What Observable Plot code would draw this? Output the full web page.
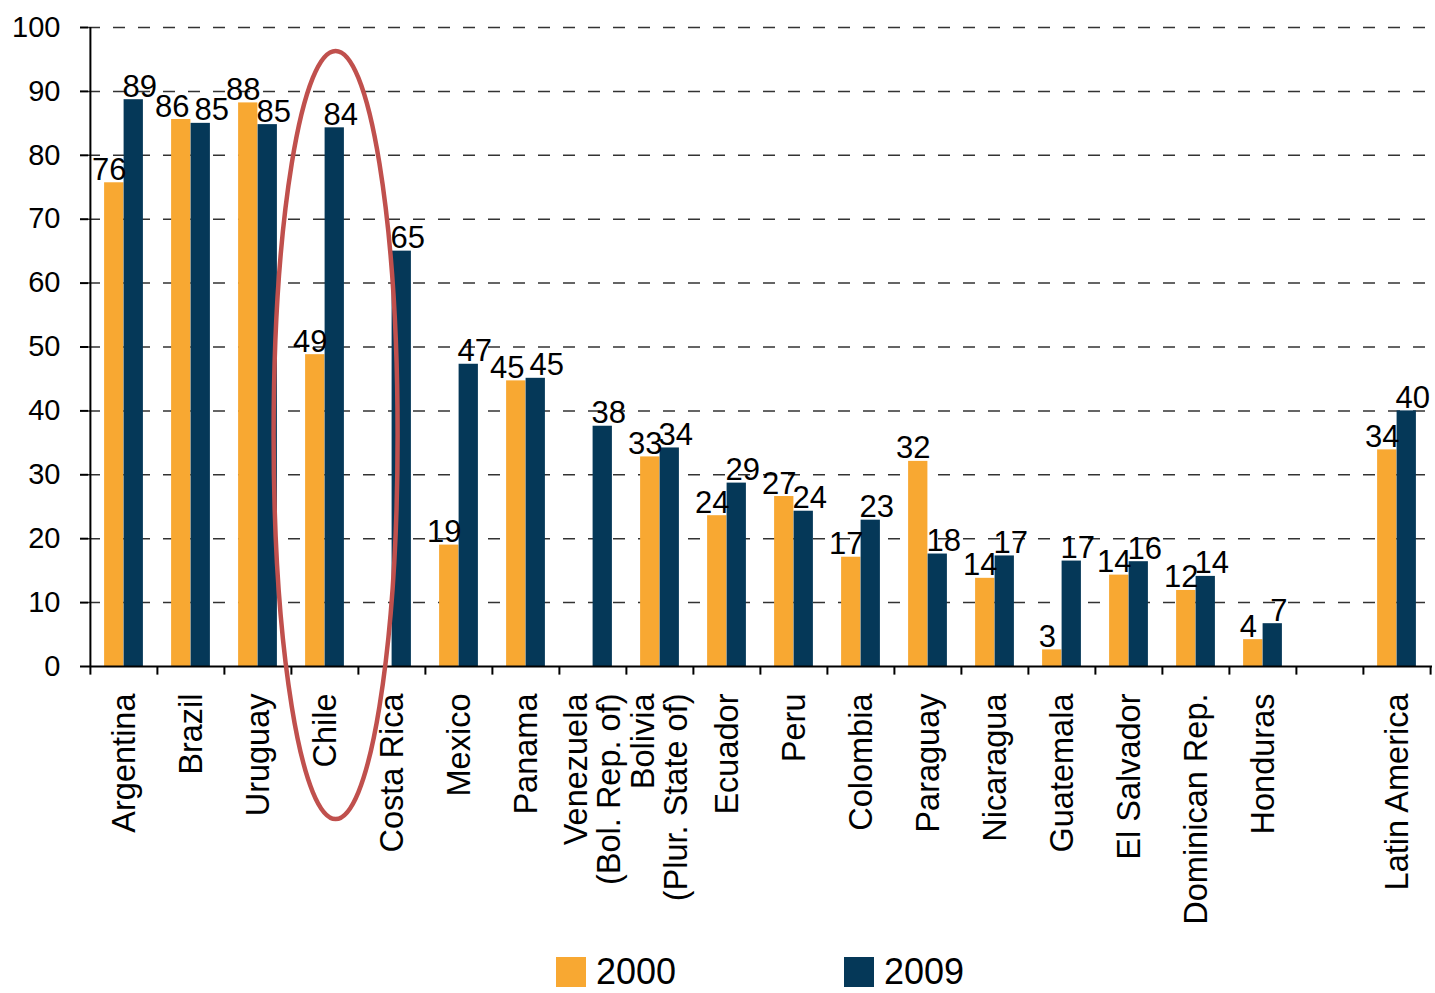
<!DOCTYPE html>
<html>
<head>
<meta charset="utf-8">
<script src="https://cdn.jsdelivr.net/npm/d3@7"></script>
<script src="https://cdn.jsdelivr.net/npm/@observablehq/plot@0.6"></script>
<style>
  html, body { margin: 0; padding: 0; background: #fff; }
  body { font-family: "Liberation Sans", Arial, sans-serif; width: 1435px; overflow: hidden; }
  #chart svg { display: block; }
  #legend { display: flex; justify-content: center; padding-left: 85px; gap: 168px; margin-top: 7px; }
  .item { display: flex; align-items: center; gap: 10px; font-size: 36px; line-height: 30px; color: #000; }
  .sw { width: 30px; height: 30px; display: inline-block; }
</style>
</head>
<body>
<div id="chart"></div>
<div id="legend"></div>
<script>
// ---- data ----
const categories = [
  "Argentina", "Brazil", "Uruguay", "Chile", "Costa Rica", "Mexico", "Panama",
  "Venezuela\n(Bol. Rep. of)", "Bolivia\n(Plur. State of)", "Ecuador", "Peru",
  "Colombia", "Paraguay", "Nicaragua", "Guatemala", "El Salvador",
  "Dominican Rep.", "Honduras", " ", "Latin America"
];
const values2000 = [75.7, 85.6, 88.2, 48.8, null, 19.0, 44.7, null, 32.8, 23.6, 26.6, 17.1, 32.1, 13.8, 2.6, 14.3, 11.9, 4.2, null, 33.9];
const values2009 = [88.7, 85.0, 84.8, 84.3, 65.0, 47.3, 45.1, 37.6, 34.2, 28.7, 24.3, 22.9, 17.6, 17.3, 16.5, 16.4, 14.1, 6.7, null, 40.0];
const yTicks = [0, 10, 20, 30, 40, 50, 60, 70, 80, 90, 100];
const seriesNames = ["2000", "2009"];
const seriesColors = ["#F8A832", "#053858"];
const highlighted = "Chile";

// ---- layout ----
const W = 1435, H = 950;
const mL = 88, mR = 3, mT = 27, mB = 284;
const bw = (W - mL - mR) / categories.length;
const barW = 19.5;

// labels of nearly equal bars are pushed apart so they don't collide
const isClose = i => values2000[i] != null && values2009[i] != null && Math.abs(values2000[i] - values2009[i]) < 1;
const rows2000 = categories.map((c, i) => ({country: c, value: values2000[i], close: isClose(i)})).filter(d => d.value != null);
const rows2009 = categories.map((c, i) => ({country: c, value: values2009[i], close: isClose(i)})).filter(d => d.value != null);
const labelCats = categories.filter(c => c.trim() !== "");

const ellipseMark = (index, scales) => {
  const cx = scales.x(highlighted) + bw / 2 + 11;
  const y0 = scales.y(0);
  return d3.create("svg:ellipse")
    .attr("cx", cx).attr("cy", y0 - 231)
    .attr("rx", 62).attr("ry", 384)
    .attr("fill", "none").attr("stroke", "#C0504D").attr("stroke-width", 4.5)
    .node();
};

const labelOpts = {x: "country", y: "value", text: d => String(Math.round(d.value)), dy: -3, lineAnchor: "bottom", fontSize: 31, fill: "#000"};

const chart = Plot.plot({
  width: W, height: H,
  marginLeft: mL, marginRight: mR, marginTop: mT, marginBottom: mB,
  style: {fontFamily: "'Liberation Sans', Arial, sans-serif", color: "#000", background: "#fff", overflow: "visible"},
  x: {domain: categories, padding: 0, axis: null},
  y: {domain: [0, 100], axis: null},
  marks: [
    Plot.gridY(yTicks.filter(d => d > 0), {stroke: "#333", strokeOpacity: 1, strokeWidth: 1.5, strokeDasharray: "12,13"}),
    Plot.barY(rows2000, {x: "country", y: "value", fill: seriesColors[0], insetLeft: bw / 2 - barW, insetRight: bw / 2}),
    Plot.barY(rows2009, {x: "country", y: "value", fill: seriesColors[1], insetLeft: bw / 2, insetRight: bw / 2 - barW}),
    Plot.text(rows2000.filter(d => !d.close), {...labelOpts, dx: -barW / 2 - 5}),
    Plot.text(rows2000.filter(d => d.close), {...labelOpts, dx: -barW / 2 - 9}),
    Plot.text(rows2009.filter(d => !d.close), {...labelOpts, dx: barW / 2 + 6}),
    Plot.text(rows2009.filter(d => d.close), {...labelOpts, dx: barW / 2 + 11}),
    Plot.ruleY([0], {stroke: "#000", strokeWidth: 2}),
    Plot.ruleX([categories[0]], {x: d => d, dx: -bw / 2, y1: 0, y2: 100, stroke: "#000", strokeWidth: 2}),
    Plot.ruleX(categories, {x: d => d, dx: -bw / 2, y1: 0, y2: -1.35, stroke: "#000", strokeWidth: 2}),
    Plot.ruleX([categories[categories.length - 1]], {x: d => d, dx: bw / 2, y1: 0, y2: -1.35, stroke: "#000", strokeWidth: 2}),
    Plot.axisY({ticks: yTicks, tickSize: 8, tickPadding: 20, strokeWidth: 2, fontSize: 29, label: null, tickFormat: d => String(d)}),
    Plot.text(labelCats, {x: d => d, text: d => d, frameAnchor: "bottom", rotate: -90, textAnchor: "end", lineAnchor: "middle", dy: 27, fontSize: 32.5, lineHeight: 1.02, fill: "#000"}),
    ellipseMark
  ]
});
document.getElementById("chart").appendChild(chart);

const legend = document.getElementById("legend");
seriesNames.forEach((n, i) => {
  const it = document.createElement("div");
  it.className = "item";
  it.innerHTML = `<span class="sw" style="background:${seriesColors[i]}"></span><span>${n}</span>`;
  legend.appendChild(it);
});
</script>
</body>
</html>
